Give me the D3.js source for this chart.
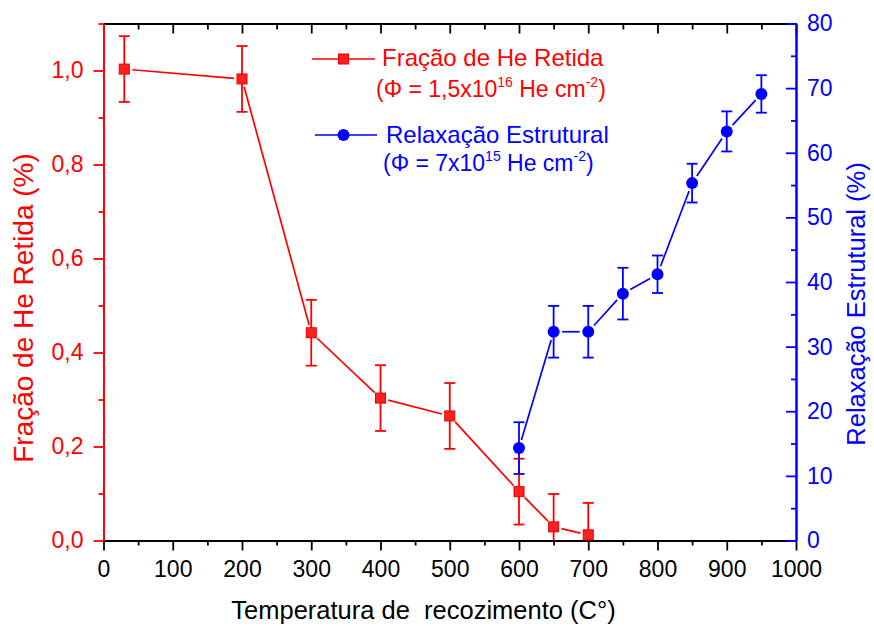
<!DOCTYPE html>
<html>
<head>
<meta charset="utf-8">
<script src="https://cdn.jsdelivr.net/npm/d3@7"></script>
<style>
  html, body { margin: 0; padding: 0; background: #ffffff; }
  svg { display: block; font-family: "Liberation Sans", Arial, sans-serif; }
</style>
</head>
<body>
<svg id="chart" width="874" height="626"></svg>
<script>
// ---- data ----
const tempsHe = [30, 200, 300, 400, 500, 600, 650, 700];
const heFraction = [1.003, 0.982, 0.442, 0.303, 0.265, 0.104, 0.029, 0.012];
const heError = [0.07, 0.07, 0.07, 0.07, 0.07, 0.07, 0.07, 0.068];

const tempsRelax = [600, 650, 700, 750, 800, 850, 900, 950];
const relaxValues = [14.3, 32.3, 32.3, 38.2, 41.2, 55.3, 63.3, 69.1];
const relaxError = [4, 4, 4, 4, 2.9, 3, 3.1, 2.9];

const xTicks = [0, 100, 200, 300, 400, 500, 600, 700, 800, 900, 1000];
const xMinorTicks = [50, 150, 250, 350, 450, 550, 650, 750, 850, 950];
const yLeftTicks = [0, 0.2, 0.4, 0.6, 0.8, 1.0];
const yLeftMinorTicks = [0.1, 0.3, 0.5, 0.7, 0.9, 1.1];
const yRightTicks = [0, 10, 20, 30, 40, 50, 60, 70, 80];
const yRightMinorTicks = [5, 15, 25, 35, 45, 55, 65, 75];

const xTitle = "Temperatura de  recozimento (C°)";
const yLeftTitle = "Fração de He Retida (%)";
const yRightTitle = "Relaxação Estrutural (%)";
const legendHe = "Fração de He Retida";
const legendRelax = "Relaxação Estrutural";

(function () {
// ---- layout ----
const RED = "#ff0000", BLUE = "#0000ff";
const pLeft = 103.5, pRight = 796, pTop = 23.5, pBottom = 540.5;

const svg = d3.select("#chart");
const x = d3.scaleLinear().domain([0, 1000]).range([pLeft, pRight]);
const yL = d3.scaleLinear().domain([0, 1.1]).range([pBottom, pTop]);
const yR = d3.scaleLinear().domain([0, 80]).range([pBottom, pTop]);

const tickFont = "23px";
const commaFmt = d => d.toFixed(1).replace(".", ",");

function styleAxis(g, color) {
  g.select(".domain").attr("stroke", color).attr("stroke-width", 2);
  g.selectAll(".tick line").attr("stroke", color).attr("stroke-width", 1.8);
  g.selectAll(".tick text").attr("fill", color).style("font-size", tickFont)
    .style("font-family", '"Liberation Sans", Arial, sans-serif');
}

// top axis (inward ticks, no labels)
const gTop = svg.append("g").attr("transform", `translate(0,${pTop})`)
  .call(d3.axisTop(x).tickValues(xTicks).tickSize(-10).tickSizeOuter(0).tickFormat(""));
styleAxis(gTop, "#000");
const gTopMinor = svg.append("g").attr("transform", `translate(0,${pTop})`)
  .call(d3.axisTop(x).tickValues(xMinorTicks).tickSize(-6).tickSizeOuter(0).tickFormat(""));
styleAxis(gTopMinor, "#000");

// bottom axis
const gBottom = svg.append("g").attr("transform", `translate(0,${pBottom})`)
  .call(d3.axisBottom(x).tickValues(xTicks).tickSize(10).tickPadding(10.5).tickSizeOuter(0).tickFormat(d3.format("d")));
styleAxis(gBottom, "#000");
const gBottomMinor = svg.append("g").attr("transform", `translate(0,${pBottom})`)
  .call(d3.axisBottom(x).tickValues(xMinorTicks).tickSize(5).tickSizeOuter(0).tickFormat(""));
styleAxis(gBottomMinor, "#000");

// left axis
const gLeft = svg.append("g").attr("transform", `translate(${pLeft},0)`)
  .call(d3.axisLeft(yL).tickValues(yLeftTicks).tickSize(10).tickPadding(10).tickSizeOuter(0).tickFormat(commaFmt));
styleAxis(gLeft, RED);
const gLeftMinor = svg.append("g").attr("transform", `translate(${pLeft},0)`)
  .call(d3.axisLeft(yL).tickValues(yLeftMinorTicks).tickSize(5).tickSizeOuter(0).tickFormat(""));
styleAxis(gLeftMinor, RED);

// right axis (inward ticks)
const gRight = svg.append("g").attr("transform", `translate(${pRight},0)`)
  .call(d3.axisRight(yR).tickValues(yRightTicks).tickSize(-10).tickPadding(11).tickSizeOuter(0).tickFormat(d3.format("d")));
styleAxis(gRight, BLUE);
const gRightMinor = svg.append("g").attr("transform", `translate(${pRight},0)`)
  .call(d3.axisRight(yR).tickValues(yRightMinorTicks).tickSize(-5).tickSizeOuter(0).tickFormat(""));
styleAxis(gRightMinor, BLUE);

// ---- axis titles ----
svg.append("text")
  .attr("x", 423.5).attr("y", 619)
  .attr("text-anchor", "middle")
  .style("font-size", "25.5px").style("white-space", "pre")
  .attr("fill", "#000")
  .text(xTitle);

svg.append("text")
  .attr("transform", "translate(33,308) rotate(-90)")
  .attr("text-anchor", "middle")
  .style("font-size", "28px")
  .attr("fill", RED)
  .text(yLeftTitle);

svg.append("text")
  .attr("transform", "translate(865,304) rotate(-90)")
  .attr("text-anchor", "middle")
  .style("font-size", "25.5px")
  .attr("fill", BLUE)
  .text(yRightTitle);

// ---- helpers ----
function gappedSegments(pts, gap) {
  const segs = [];
  for (let i = 0; i < pts.length - 1; i++) {
    const [x1, y1] = pts[i], [x2, y2] = pts[i + 1];
    const dx = x2 - x1, dy = y2 - y1, len = Math.hypot(dx, dy);
    if (len <= 2 * gap) continue;
    const ux = dx / len, uy = dy / len;
    segs.push([x1 + ux * gap, y1 + uy * gap, x2 - ux * gap, y2 - uy * gap]);
  }
  return segs;
}

function drawErrorBars(g, xs, vals, errs, yScale, color) {
  const [d0, d1] = yScale.domain();
  xs.forEach((xv, i) => {
    const lo = vals[i] - errs[i], hi = vals[i] + errs[i];
    const loC = Math.max(lo, d0), hiC = Math.min(hi, d1);
    const px = x(xv);
    g.append("line").attr("x1", px).attr("x2", px)
      .attr("y1", yScale(loC)).attr("y2", yScale(hiC))
      .attr("stroke", color).attr("stroke-width", 1.8);
    if (hi <= d1) g.append("line").attr("x1", px - 5.5).attr("x2", px + 5.5)
      .attr("y1", yScale(hi)).attr("y2", yScale(hi))
      .attr("stroke", color).attr("stroke-width", 1.8);
    if (lo >= d0) g.append("line").attr("x1", px - 5.5).attr("x2", px + 5.5)
      .attr("y1", yScale(lo)).attr("y2", yScale(lo))
      .attr("stroke", color).attr("stroke-width", 1.8);
  });
}

// ---- He fraction series ----
const gHe = svg.append("g");
drawErrorBars(gHe, tempsHe, heFraction, heError, yL, RED);
const hePts = tempsHe.map((t, i) => [x(t), yL(heFraction[i])]);
gHe.selectAll("line.seg").data(gappedSegments(hePts, 8)).enter().append("line")
  .attr("class", "seg")
  .attr("x1", d => d[0]).attr("y1", d => d[1]).attr("x2", d => d[2]).attr("y2", d => d[3])
  .attr("stroke", RED).attr("stroke-width", 1.7);
gHe.selectAll("rect.m").data(hePts).enter().append("rect")
  .attr("class", "m")
  .attr("x", d => d[0] - 5).attr("y", d => d[1] - 5)
  .attr("width", 10).attr("height", 10)
  .attr("fill", "#ff2020").attr("stroke", "#e80000").attr("stroke-width", 1);

// ---- Relaxation series ----
const gRel = svg.append("g");
drawErrorBars(gRel, tempsRelax, relaxValues, relaxError, yR, BLUE);
const relPts = tempsRelax.map((t, i) => [x(t), yR(relaxValues[i])]);
gRel.selectAll("line.seg").data(gappedSegments(relPts, 8.5)).enter().append("line")
  .attr("class", "seg")
  .attr("x1", d => d[0]).attr("y1", d => d[1]).attr("x2", d => d[2]).attr("y2", d => d[3])
  .attr("stroke", BLUE).attr("stroke-width", 1.7);
gRel.selectAll("circle.m").data(relPts).enter().append("circle")
  .attr("class", "m")
  .attr("cx", d => d[0]).attr("cy", d => d[1]).attr("r", 6)
  .attr("fill", BLUE);

// ---- legend ----
const lg = svg.append("g");
lg.append("line").attr("x1", 312).attr("x2", 375).attr("y1", 59).attr("y2", 59)
  .attr("stroke", RED).attr("stroke-width", 1.7);
lg.append("rect").attr("x", 338.5).attr("y", 54).attr("width", 10).attr("height", 10)
  .attr("fill", "#ff2020").attr("stroke", "#e80000").attr("stroke-width", 1);
lg.append("text").attr("x", 382).attr("y", 66).attr("fill", RED)
  .style("font-size", "24px").text(legendHe);
const t1 = lg.append("text").attr("x", 376).attr("y", 97).attr("fill", RED).style("font-size", "23px");
t1.append("tspan").text("(Φ = 1,5x10");
t1.append("tspan").attr("dy", -10).style("font-size", "14px").text("16");
t1.append("tspan").attr("dy", 10).text(" He cm");
t1.append("tspan").attr("dy", -10).style("font-size", "14px").text("-2");
t1.append("tspan").attr("dy", 10).text(")");

lg.append("line").attr("x1", 315).attr("x2", 377).attr("y1", 135).attr("y2", 135)
  .attr("stroke", BLUE).attr("stroke-width", 1.7);
lg.append("circle").attr("cx", 343.5).attr("cy", 135).attr("r", 6).attr("fill", BLUE);
lg.append("text").attr("x", 386).attr("y", 143).attr("fill", BLUE)
  .style("font-size", "24px").text(legendRelax);
const t2 = lg.append("text").attr("x", 383).attr("y", 171).attr("fill", BLUE).style("font-size", "23px");
t2.append("tspan").text("(Φ = 7x10");
t2.append("tspan").attr("dy", -10).style("font-size", "14px").text("15");
t2.append("tspan").attr("dy", 10).text(" He cm");
t2.append("tspan").attr("dy", -10).style("font-size", "14px").text("-2");
t2.append("tspan").attr("dy", 10).text(")");
})();
</script>
</body>
</html>
